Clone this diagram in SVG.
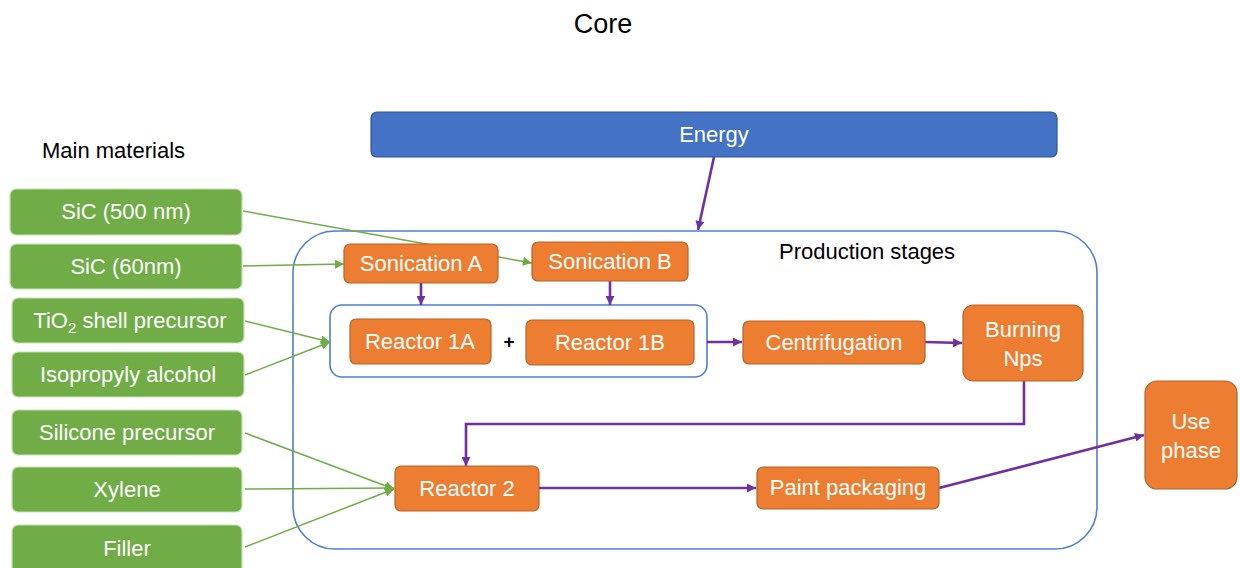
<svg xmlns="http://www.w3.org/2000/svg" width="1240" height="568" viewBox="0 0 1240 568">
  <defs>
    <style>
      text { font-family: "Liberation Sans", Arial, sans-serif; }
      .lbl { font-size: 22px; fill: #ffffff; text-anchor: middle; }
      .head { font-size: 22px; fill: #000000; }
      .mat rect { fill: #70AD47; stroke: #C9E2B8; stroke-width: 1.2; }
      .stage rect { fill: #ED7D31; stroke: #B5652B; stroke-width: 1.2; }
      .energy rect { fill: #4472C4; stroke: #2F5597; stroke-width: 1.2; }
      .frame { fill: none; stroke: #4F7FD1; stroke-width: 1.6; }
      .green { fill: none; stroke: #70AD47; stroke-width: 1.5; marker-end: url(#arrG); }
      .purple { fill: none; stroke: #7030A0; stroke-width: 2.6; marker-end: url(#arrP); }
    </style>
    <marker id="arrG" viewBox="0 0 10 10" refX="10" refY="5" markerWidth="10" markerHeight="9" markerUnits="userSpaceOnUse" orient="auto">
      <path d="M0,0 L10,5 L0,10 z" fill="#70AD47"/>
    </marker>
    <marker id="arrP" viewBox="0 0 10 10" refX="10" refY="5" markerWidth="10" markerHeight="9" markerUnits="userSpaceOnUse" orient="auto">
      <path d="M0,0 L10,5 L0,10 z" fill="#7030A0"/>
    </marker>
  </defs>

  <rect width="1240" height="568" fill="#ffffff"/>

  <!-- headings -->
  <text x="603" y="33" font-size="27" text-anchor="middle" fill="#000">Core</text>
  <text class="head" x="42" y="158">Main materials</text>
  <text class="head" x="779" y="259">Production stages</text>

  <!-- grouping frames -->
  <rect id="production-stages" class="frame" x="293" y="231" width="804" height="318" rx="42" ry="42"/>
  <rect id="reactor-1-group" class="frame" x="330" y="305" width="377" height="72" rx="12" ry="12"/>

  <!-- connectors -->
  <g id="connectors">
    <path class="green" d="M243,211 L532,263"/>
    <path class="green" d="M243,266 L344,264"/>
    <path class="green" d="M245,321 L330,342"/>
    <path class="green" d="M245,375 L330,342"/>
    <path class="green" d="M245,433 L394,489"/>
    <path class="green" d="M245,489 L394,488"/>
    <path class="green" d="M245,547 L394,489"/>

    <path class="purple" d="M714,157 L698,230"/>
    <path class="purple" d="M421,283 L421,305"/>
    <path class="purple" d="M610,281 L610,305"/>
    <path class="purple" d="M707,342 L742,342"/>
    <path class="purple" d="M925,342 L962,343"/>
    <path class="purple" d="M1024,381 L1024,424 L466,424 L466,466"/>
    <path class="purple" d="M539,488 L756,488"/>
    <path class="purple" d="M939,488 L1144,435"/>
  </g>

  <!-- energy input -->
  <g id="energy" class="energy">
    <rect x="371" y="112" width="686" height="45" rx="6"/>
    <text class="lbl" x="714" y="142">Energy</text>
  </g>

  <!-- main materials -->
  <g id="sic-500" class="mat">
    <rect x="10" y="189" width="232" height="46" rx="6"/>
    <text class="lbl" x="126" y="219">SiC (500 nm)</text>
  </g>
  <g id="sic-60" class="mat">
    <rect x="10" y="244" width="232" height="45" rx="6"/>
    <text class="lbl" x="126" y="274">SiC (60nm)</text>
  </g>
  <g id="tio2" class="mat">
    <rect x="12" y="298" width="232" height="45" rx="6"/>
    <text class="lbl" x="130" y="328">TiO<tspan font-size="15" dy="5">2</tspan><tspan dy="-5"> shell precursor</tspan></text>
  </g>
  <g id="isopropyl" class="mat">
    <rect x="12" y="352" width="232" height="45" rx="6"/>
    <text class="lbl" x="128" y="382">Isopropyly alcohol</text>
  </g>
  <g id="silicone" class="mat">
    <rect x="12" y="410" width="230" height="45" rx="6"/>
    <text class="lbl" x="127" y="440">Silicone precursor</text>
  </g>
  <g id="xylene" class="mat">
    <rect x="12" y="467" width="230" height="45" rx="6"/>
    <text class="lbl" x="127" y="497">Xylene</text>
  </g>
  <g id="filler" class="mat">
    <rect x="12" y="525" width="230" height="50" rx="6"/>
    <text class="lbl" x="127" y="556">Filler</text>
  </g>

  <!-- production stages -->
  <g id="sonication-a" class="stage">
    <rect x="344" y="244" width="154" height="39" rx="6"/>
    <text class="lbl" x="421" y="271">Sonication A</text>
  </g>
  <g id="sonication-b" class="stage">
    <rect x="532" y="242" width="156" height="39" rx="6"/>
    <text class="lbl" x="610" y="269">Sonication B</text>
  </g>
  <g id="reactor-1a" class="stage">
    <rect x="350" y="319" width="141" height="45" rx="6"/>
    <text class="lbl" x="420" y="349">Reactor 1A</text>
  </g>
  <text x="509" y="348" font-size="19" font-weight="bold" text-anchor="middle" fill="#000">+</text>
  <g id="reactor-1b" class="stage">
    <rect x="526" y="320" width="168" height="45" rx="6"/>
    <text class="lbl" x="610" y="350">Reactor 1B</text>
  </g>
  <g id="centrifugation" class="stage">
    <rect x="743" y="321" width="182" height="43" rx="6"/>
    <text class="lbl" x="834" y="350">Centrifugation</text>
  </g>
  <g id="burning-nps" class="stage">
    <rect x="963" y="305" width="120" height="76" rx="10"/>
    <text class="lbl" x="1023" y="337">Burning</text>
    <text class="lbl" x="1023" y="366">Nps</text>
  </g>
  <g id="reactor-2" class="stage">
    <rect x="395" y="466" width="144" height="45" rx="6"/>
    <text class="lbl" x="467" y="496">Reactor 2</text>
  </g>
  <g id="paint-packaging" class="stage">
    <rect x="757" y="467" width="182" height="42" rx="6"/>
    <text class="lbl" x="848" y="495">Paint packaging</text>
  </g>
  <g id="use-phase" class="stage">
    <rect x="1145" y="381" width="92" height="108" rx="12"/>
    <text class="lbl" x="1191" y="429">Use</text>
    <text class="lbl" x="1191" y="458">phase</text>
  </g>
</svg>
